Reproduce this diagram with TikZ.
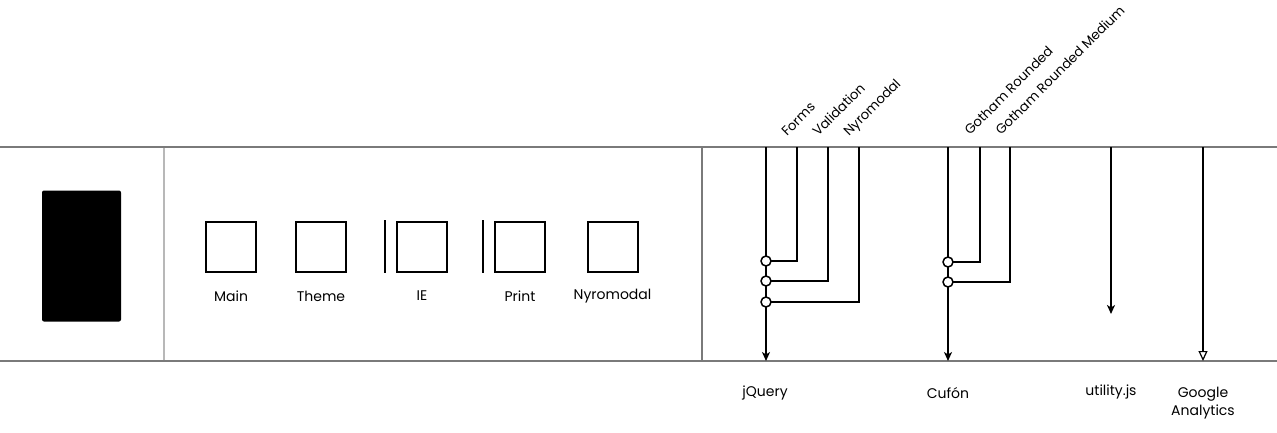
\documentclass[tikz,border=0pt]{standalone}
\usepackage{fontspec}
\setmainfont{Poppins}
\usetikzlibrary{arrows.meta}
\begin{document}
\begin{tikzpicture}[x=1pt,y=-1pt,
  rail/.style={draw=black!52, line width=1.8pt},
  sep/.style={draw=black!52, line width=1.4pt},
  sq/.style={draw=black, line width=2pt, minimum size=50pt, inner sep=0pt},
  bar/.style={draw=black, line width=2pt},
  lbl/.style={font=\fontsize{14}{16}\selectfont, inner sep=0pt},
  rot/.style={font=\fontsize{13.3}{16}\selectfont, inner sep=0pt, anchor=base west, rotate=45},
  wire/.style={draw=black, line width=1.5pt},
  flow/.style={draw=black, line width=1.5pt, -{Stealth[length=9pt,width=8pt,inset=2.5pt]}},
  dot/.style={circle, draw=black, line width=1.5pt, fill=white, minimum size=10pt, inner sep=0pt},
]
\useasboundingbox (0,0) rectangle (1277,432);
% rails and separators
\coordinate (tl) at (0,147); \coordinate (tr) at (1277,147);
\coordinate (bl) at (0,361); \coordinate (br) at (1277,361);
\coordinate (s1t) at (164,147); \coordinate (s1b) at (164,361);
\coordinate (s2t) at (702,147); \coordinate (s2b) at (702,361);
\draw[sep, draw=black!28] (s1t) -- (s1b);
\draw[sep] (s2t) -- (s2b);
\draw[rail] (tl) -- (tr);
\draw[rail] (bl) -- (br);
% logo block
\node[fill=black, rounded corners=2pt, minimum width=79pt, minimum height=131pt, inner sep=0pt] (logo) at (81.5,256) {};
% stylesheets
\node[sq] (main) at (231,246.5) {};
\node[sq] (theme) at (321,246.5) {};
\node[sq] (ie) at (422,246.5) {};
\node[sq] (print) at (520,246.5) {};
\node[sq] (nyro) at (612.5,246.5) {};
\coordinate (ieBt) at (385,220); \coordinate (ieBb) at (385,273);
\coordinate (prBt) at (483,220); \coordinate (prBb) at (483,273);
\draw[bar] (ieBt) -- (ieBb);
\draw[bar] (prBt) -- (prBb);
\node[lbl] (lmain) at (231,296) {Main};
\node[lbl] (ltheme) at (321,296) {Theme};
\node[lbl] (lie) at (422,296) {IE};
\node[lbl] (lprint) at (520,296) {Print};
\node[lbl] (lnyro) at (612.5,296) {Nyromodal};
% jQuery group
\coordinate (jqT) at (766,147); \coordinate (jqB) at (766,361);
\coordinate (fT) at (797,147); \coordinate (vT) at (828,147); \coordinate (nT) at (859,147);
\coordinate (c1) at (766,261); \coordinate (c2) at (766,281); \coordinate (c3) at (766,302);
\draw[flow] (jqT) -- (jqB);
\draw[wire] (fT) |- (c1);
\draw[wire] (vT) |- (c2);
\draw[wire] (nT) |- (c3);
\node[dot] (d1) at (c1) {};
\node[dot] (d2) at (c2) {};
\node[dot] (d3) at (c3) {};
\node[rot] (lforms) at (787,137) {Forms};
\node[rot] (lvalid) at (818,137) {Validation};
\node[rot] (lnyromod) at (849,137) {Nyromodal};
\node[lbl] (ljq) at (765,393) {jQuery};
% Cufon group
\coordinate (cuT) at (948,147); \coordinate (cuB) at (948,361);
\coordinate (gT) at (980,147); \coordinate (gmT) at (1010,147);
\coordinate (e1) at (948,262); \coordinate (e2) at (948,282);
\draw[flow] (cuT) -- (cuB);
\draw[wire] (gT) |- (e1);
\draw[wire] (gmT) |- (e2);
\node[dot] (f1) at (e1) {};
\node[dot] (f2) at (e2) {};
\node[rot] (lgr) at (970,136) {Gotham Rounded};
\node[rot] (lgrm) at (1001,136) {Gotham Rounded Medium};
\node[lbl] (lcu) at (948,393) {Cufón};
% utility.js
\coordinate (uT) at (1111,147); \coordinate (uB) at (1111,314);
\draw[flow] (uT) -- (uB);
\node[lbl] (lut) at (1111,392) {utility.js};
% Google Analytics
\coordinate (gaT) at (1203,147); \coordinate (gaB) at (1203,361);
\draw[draw=black, line width=2.8pt, -{Triangle[open, length=10pt, width=9pt, line width=1.2pt]}] (gaT) -- (gaB);
\node[lbl, align=center, font=\fontsize{14}{18}\selectfont] (lga) at (1203,403) {Google\\Analytics};
\end{tikzpicture}
\end{document}
